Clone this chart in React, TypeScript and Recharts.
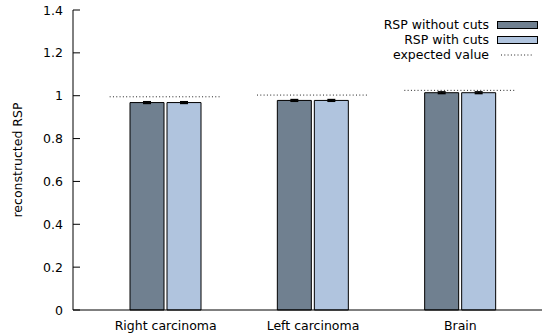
import {
  Bar,
  ComposedChart,
  ErrorBar,
  Label,
  Scatter,
  XAxis,
  YAxis,
} from 'recharts';

const categories = ['Right carcinoma', 'Left carcinoma', 'Brain'];
const withoutCuts = [0.968, 0.978, 1.014];
const withCuts = [0.968, 0.978, 1.014];
const errors = [0.004, 0.004, 0.004];
const expected = [0.995, 1.003, 1.025];
const yTicks = [0, 0.2, 0.4, 0.6, 0.8, 1, 1.2, 1.4];

const data = categories.map((name, i) => ({
  name,
  without: withoutCuts[i],
  with: withCuts[i],
  err: errors[i],
  expected: expected[i],
}));

const FONT = 'DejaVu Sans, sans-serif';
const DARK = '#708090';
const LIGHT = '#b0c4de';
const EXP_WIDTH = 112;

// expected value: dotted horizontal segment centred on the category
const DottedLine = (props: any) => {
  const { cx, cy } = props;
  return (
    <line
      x1={cx - EXP_WIDTH / 2}
      x2={cx + EXP_WIDTH / 2}
      y1={cy}
      y2={cy}
      stroke="#222"
      strokeWidth={1}
      strokeDasharray="1 2.3"
    />
  );
};

// y tick: label plus a short inward tick mark
const YTick = (props: any) => {
  const { x, y, payload } = props;
  return (
    <g>
      <line x1={x + 10} x2={x + 17} y1={y} y2={y} stroke="#000" />
      <text
        x={x}
        y={y}
        textAnchor="end"
        dominantBaseline="central"
        fontFamily={FONT}
        fontSize={12.5}
        fill="#000"
      >
        {String(payload.value)}
      </text>
    </g>
  );
};

const LegendBox = () => {
  const rows = [
    { label: 'RSP without cuts', fill: DARK },
    { label: 'RSP with cuts', fill: LIGHT },
    { label: 'expected value', fill: null },
  ];
  return (
    <div
      style={{
        position: 'absolute',
        top: 17,
        right: 4,
        fontFamily: FONT,
        fontSize: 12.5,
        color: '#000',
      }}
    >
      {rows.map((r) => (
        <div
          key={r.label}
          style={{
            display: 'flex',
            alignItems: 'center',
            justifyContent: 'flex-end',
            height: 15,
          }}
        >
          <span style={{ marginRight: 8 }}>{r.label}</span>
          {r.fill ? (
            <span
              style={{
                width: 39,
                height: 6,
                background: r.fill,
                border: '1px solid #000',
                display: 'inline-block',
              }}
            />
          ) : (
            <svg width={41} height={8}>
              <line
                x1={4}
                x2={37}
                y1={4}
                y2={4}
                stroke="#222"
                strokeDasharray="1 2.3"
              />
            </svg>
          )}
        </div>
      ))}
    </div>
  );
};

export default function App() {
  return (
    <div style={{ position: 'absolute', left: 0, top: 0, width: 542, height: 336 }}>
      <ComposedChart
        width={542}
        height={336}
        data={data}
        margin={{ top: 10, right: 0, bottom: 0, left: 0 }}
        barGap={3}
      >
        <XAxis
          dataKey="name"
          padding={{ left: 19, right: 8 }}
          tickLine={false}
          tickMargin={5}
          height={26}
          stroke="#000"
          tick={{ fill: '#000', fontFamily: FONT, fontSize: 12.5 }}
          interval={0}
        />
        <YAxis
          width={73}
          domain={[0, 1.4]}
          ticks={yTicks}
          tickLine={false}
          tickMargin={4}
          stroke="#000"
          tick={<YTick />}
        >
          <Label
            content={({ viewBox }: any) => {
              const cx = viewBox.x + 17;
              const cy = viewBox.y + viewBox.height / 2;
              return (
                <text
                  x={cx}
                  y={cy}
                  transform={`rotate(-90 ${cx} ${cy})`}
                  textAnchor="middle"
                  dominantBaseline="central"
                  fontFamily={FONT}
                  fontSize={12.5}
                  fill="#000"
                >
                  reconstructed RSP
                </text>
              );
            }}
          />
        </YAxis>
        <Bar
          dataKey="without"
          name="RSP without cuts"
          fill={DARK}
          stroke="#000"
          strokeWidth={1}
          barSize={34}
          isAnimationActive={false}
        >
          <ErrorBar dataKey="err" width={4} stroke="#000" strokeWidth={1.5} />
        </Bar>
        <Bar
          dataKey="with"
          name="RSP with cuts"
          fill={LIGHT}
          stroke="#000"
          strokeWidth={1}
          barSize={34}
          isAnimationActive={false}
        >
          <ErrorBar dataKey="err" width={4} stroke="#000" strokeWidth={1.5} />
        </Bar>
        <Scatter
          dataKey="expected"
          name="expected value"
          shape={<DottedLine />}
          isAnimationActive={false}
        />
      </ComposedChart>
      <LegendBox />
    </div>
  );
}
